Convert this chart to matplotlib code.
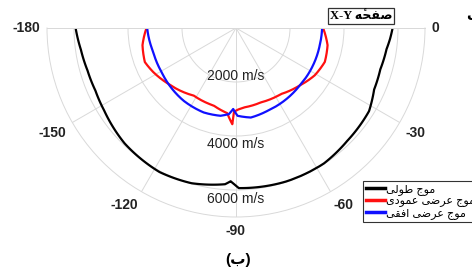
import numpy as np
import matplotlib
matplotlib.use("Agg")
import matplotlib.pyplot as plt

# angles in degrees, speeds in m/s
black_ang = [-180, -172, -164, -156, -148, -134, -118, -106, -94, -92, -90.5, -89, -72, -57, -45.5, -32, -24, -16, -8, -4, 0]
black_v = [5940, 5800, 5720, 5700, 5760, 5940, 6040, 5980, 5800, 5680, 5800, 5930, 5980, 5980, 5870, 5810, 5600, 5560, 5630, 5720, 5800]

red_ang = [-180, -169.6, -159.5, -152, -140.5, -122, -106, -95.9, -92.2, -91.4, -89, -84.2, -71.5, -55.6, -42, -31, -20.9, -10.6, 0]
red_v = [3316, 3521, 3604, 3473, 3249, 2953, 2990, 3170, 3566, 3103, 3028, 2957, 2905, 2961, 3178, 3402, 3521, 3450, 3226]

blue_ang = [-180, -163.9, -149.3, -140.5, -125.8, -110.9, -100, -94.7, -92, -89, -80.6, -69.1, -56.3, -42, -25.9, -11.6, 0]
blue_v = [3290, 3192, 3204, 3249, 3320, 3349, 3301, 3200, 3002, 3252, 3361, 3282, 3233, 3178, 3170, 3166, 3189]

series_labels = ["موج طولی", "موج عرضی عمودی", "موج عرضی افقی"]
theta_ticks = [0, -30, -60, -90, -120, -150, -180]
r_ticks = [2000, 4000, 6000]
r_tick_labels = ["2000 m/s", "4000 m/s", "6000 m/s"]
title_text = "صفحهٔ X-Y"
panel_text = "(ب)"

# matplotlib has no arabic shaping, so pick presentation forms by hand
FORMS = {
    "ا": ("\uFE8D", "\uFE8E", None, None),
    "ب": ("\uFE8F", "\uFE90", "\uFE91", "\uFE92"),
    "ج": ("\uFE9D", "\uFE9E", "\uFE9F", "\uFEA0"),
    "ح": ("\uFEA1", "\uFEA2", "\uFEA3", "\uFEA4"),
    "د": ("\uFEA9", "\uFEAA", None, None),
    "ر": ("\uFEAD", "\uFEAE", None, None),
    "ص": ("\uFEB9", "\uFEBA", "\uFEBB", "\uFEBC"),
    "ض": ("\uFEBD", "\uFEBE", "\uFEBF", "\uFEC0"),
    "ط": ("\uFEC1", "\uFEC2", "\uFEC3", "\uFEC4"),
    "ع": ("\uFEC9", "\uFECA", "\uFECB", "\uFECC"),
    "ف": ("\uFED1", "\uFED2", "\uFED3", "\uFED4"),
    "ق": ("\uFED5", "\uFED6", "\uFED7", "\uFED8"),
    "ل": ("\uFEDD", "\uFEDE", "\uFEDF", "\uFEE0"),
    "م": ("\uFEE1", "\uFEE2", "\uFEE3", "\uFEE4"),
    "ه": ("\uFEE9", "\uFEEA", "\uFEEB", "\uFEEC"),
    "و": ("\uFEED", "\uFEEE", None, None),
    "ی": ("\uFBFC", "\uFBFD", "\uFBFE", "\uFBFF"),
}
MARKS = {"\u0654"}
MIRROR = {"(": ")", ")": "("}


def shape_word(word):
    if not any(c in FORMS for c in word):
        return word
    chars = list(word)
    clusters = []
    for i, c in enumerate(chars):
        if c in MARKS and clusters:
            clusters[-1] += c
            continue
        if c not in FORMS:
            clusters.append(MIRROR.get(c, c))
            continue
        # neighbours, skipping marks
        j = i - 1
        while j >= 0 and chars[j] in MARKS:
            j -= 1
        k = i + 1
        while k < len(chars) and chars[k] in MARKS:
            k += 1
        prev_joins = j >= 0 and chars[j] in FORMS and FORMS[chars[j]][2] is not None
        next_joins = k < len(chars) and chars[k] in FORMS and FORMS[c][2] is not None
        iso, fin, ini, med = FORMS[c]
        if prev_joins and next_joins:
            g = med
        elif prev_joins:
            g = fin
        elif next_joins:
            g = ini
        else:
            g = iso
        clusters.append(g)
    return "".join(reversed(clusters))


def rtl(text):
    return " ".join(shape_word(w) for w in reversed(text.split(" ")))


grid_col = "#d9d9d9"
fig = plt.figure(figsize=(4.72, 2.71), dpi=100)
# square box so the half disc spans the full width; its top edge lands at y=28px
ax = fig.add_axes([47 / 472, (271 - 311.5) / 271, 378 / 472, 378 / 271], projection="polar")
ax.set_thetamin(-180)
ax.set_thetamax(0)
ax.set_rlim(0, 7000)

l1, = ax.plot(np.deg2rad(black_ang), black_v, color="black", lw=1.6)
l2, = ax.plot(np.deg2rad(red_ang), red_v, color="#ff1010", lw=1.6)
l3, = ax.plot(np.deg2rad(blue_ang), blue_v, color="#1010ff", lw=1.6)
# draw segments as curves in polar space instead of straight chords
for ln in (l1, l2, l3):
    ln.get_path()._interpolation_steps = 30

ax.set_xticks(np.deg2rad(theta_ticks))
ax.set_xticklabels([])
ax.set_yticks(r_ticks)
ax.set_yticklabels([])
ax.grid(True, color=grid_col, lw=0.7)
for sp in ax.spines.values():
    sp.set_color(grid_col)
    sp.set_linewidth(0.7)

align = {0: ("left", "center"), -30: ("left", "top"), -60: ("left", "top"),
         -90: ("center", "top"), -120: ("right", "top"), -150: ("right", "top"),
         -180: ("right", "center")}
for t in theta_ticks:
    ha, va = align[t]
    ax.text(np.deg2rad(t), 7250, str(t), ha=ha, va=va, fontsize=10,
            fontweight="bold", family="Liberation Sans", color="#222222",
            clip_on=False)

for rr, lab in zip([1760, 4300, 6320], r_tick_labels):
    ax.text(np.deg2rad(-90), rr, lab, ha="center", va="center", fontsize=10,
            family="Liberation Sans", color="#222222")

leg = fig.legend([l1, l2, l3], [rtl(s) for s in series_labels],
                 loc="upper left", bbox_to_anchor=(363 / 472, 1 - 181 / 271),
                 prop={"family": ["Liberation Sans", "DejaVu Sans"], "size": 8},
                 frameon=True, fancybox=False, edgecolor="black",
                 handlelength=1.7, handletextpad=0.15, borderpad=0.25,
                 labelspacing=0.1, borderaxespad=0)
leg.get_frame().set_linewidth(0.8)
for ln in leg.get_lines():
    ln.set_linewidth(2.5)

fig.text(361 / 472, 1 - 16 / 271, rtl(title_text), ha="center", va="center",
         fontsize=9, fontweight="bold", family=["Liberation Serif", "DejaVu Sans"],
         bbox=dict(boxstyle="square,pad=0.15", fc="white", ec="#333333", lw=0.9))
fig.text(466 / 472, 1 - 16 / 271, rtl("ب"), ha="left", va="center",
         fontsize=10, fontweight="bold", family=["Liberation Sans", "DejaVu Sans"])
fig.text(238 / 472, 1 - 260 / 271, rtl(panel_text), ha="center", va="center",
         fontsize=11, fontweight="bold", family=["Liberation Sans", "DejaVu Sans"])

fig.savefig("out.png", dpi=100)
